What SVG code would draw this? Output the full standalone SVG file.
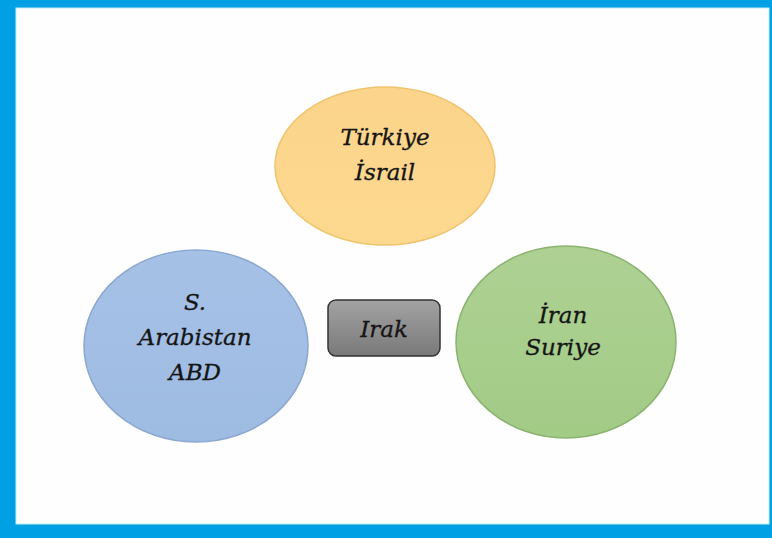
<svg xmlns="http://www.w3.org/2000/svg" width="772" height="538" viewBox="0 0 772 538">
<defs>
<linearGradient id="gy" x1="0" y1="0" x2="0" y2="1"><stop offset="0" stop-color="#fcd48c"/><stop offset="1" stop-color="#fdd98f"/></linearGradient>
<linearGradient id="gb" x1="0" y1="0" x2="0" y2="1"><stop offset="0" stop-color="#a6c1e6"/><stop offset="1" stop-color="#9ebbe2"/></linearGradient>
<linearGradient id="gg" x1="0" y1="0" x2="0" y2="1"><stop offset="0" stop-color="#aed193"/><stop offset="1" stop-color="#a2cb86"/></linearGradient>
<linearGradient id="gr" x1="0" y1="0" x2="0" y2="1"><stop offset="0" stop-color="#a3a3a3"/><stop offset="1" stop-color="#797979"/></linearGradient>
</defs>
<rect x="0" y="0" width="772" height="538" fill="#00a1e4"/>
<rect x="16" y="8" width="753" height="516" fill="#fefefe" stroke="#bff0f5" stroke-width="1"/>
<g font-family="'DejaVu Serif', serif" font-style="italic" font-size="23" fill="#151515" stroke="#151515" stroke-width="0.3" text-anchor="middle">
<g id="turkiye">
<ellipse cx="385" cy="166" rx="110" ry="79" fill="url(#gy)" stroke="#f0c36c" stroke-width="1.5"/>
<text x="385" y="145">Türkiye</text>
<text x="385" y="180">İsrail</text>
</g>
<g id="arabistan">
<ellipse cx="196" cy="346" rx="112" ry="96" fill="url(#gb)" stroke="#8ca8d0" stroke-width="1.5"/>
<text x="195" y="310">S.</text>
<text x="195" y="345">Arabistan</text>
<text x="195" y="380">ABD</text>
</g>
<g id="iran">
<ellipse cx="566" cy="342" rx="110" ry="96" fill="url(#gg)" stroke="#8bb36f" stroke-width="1.5"/>
<text x="563" y="323">İran</text>
<text x="563" y="355">Suriye</text>
</g>
<g id="irak">
<rect x="328" y="300" width="112" height="56" rx="8" fill="url(#gr)" stroke="#333" stroke-width="1.5"/>
<text x="384" y="337">Irak</text>
</g>
</g>
<g id="connectors"></g>
</svg>
